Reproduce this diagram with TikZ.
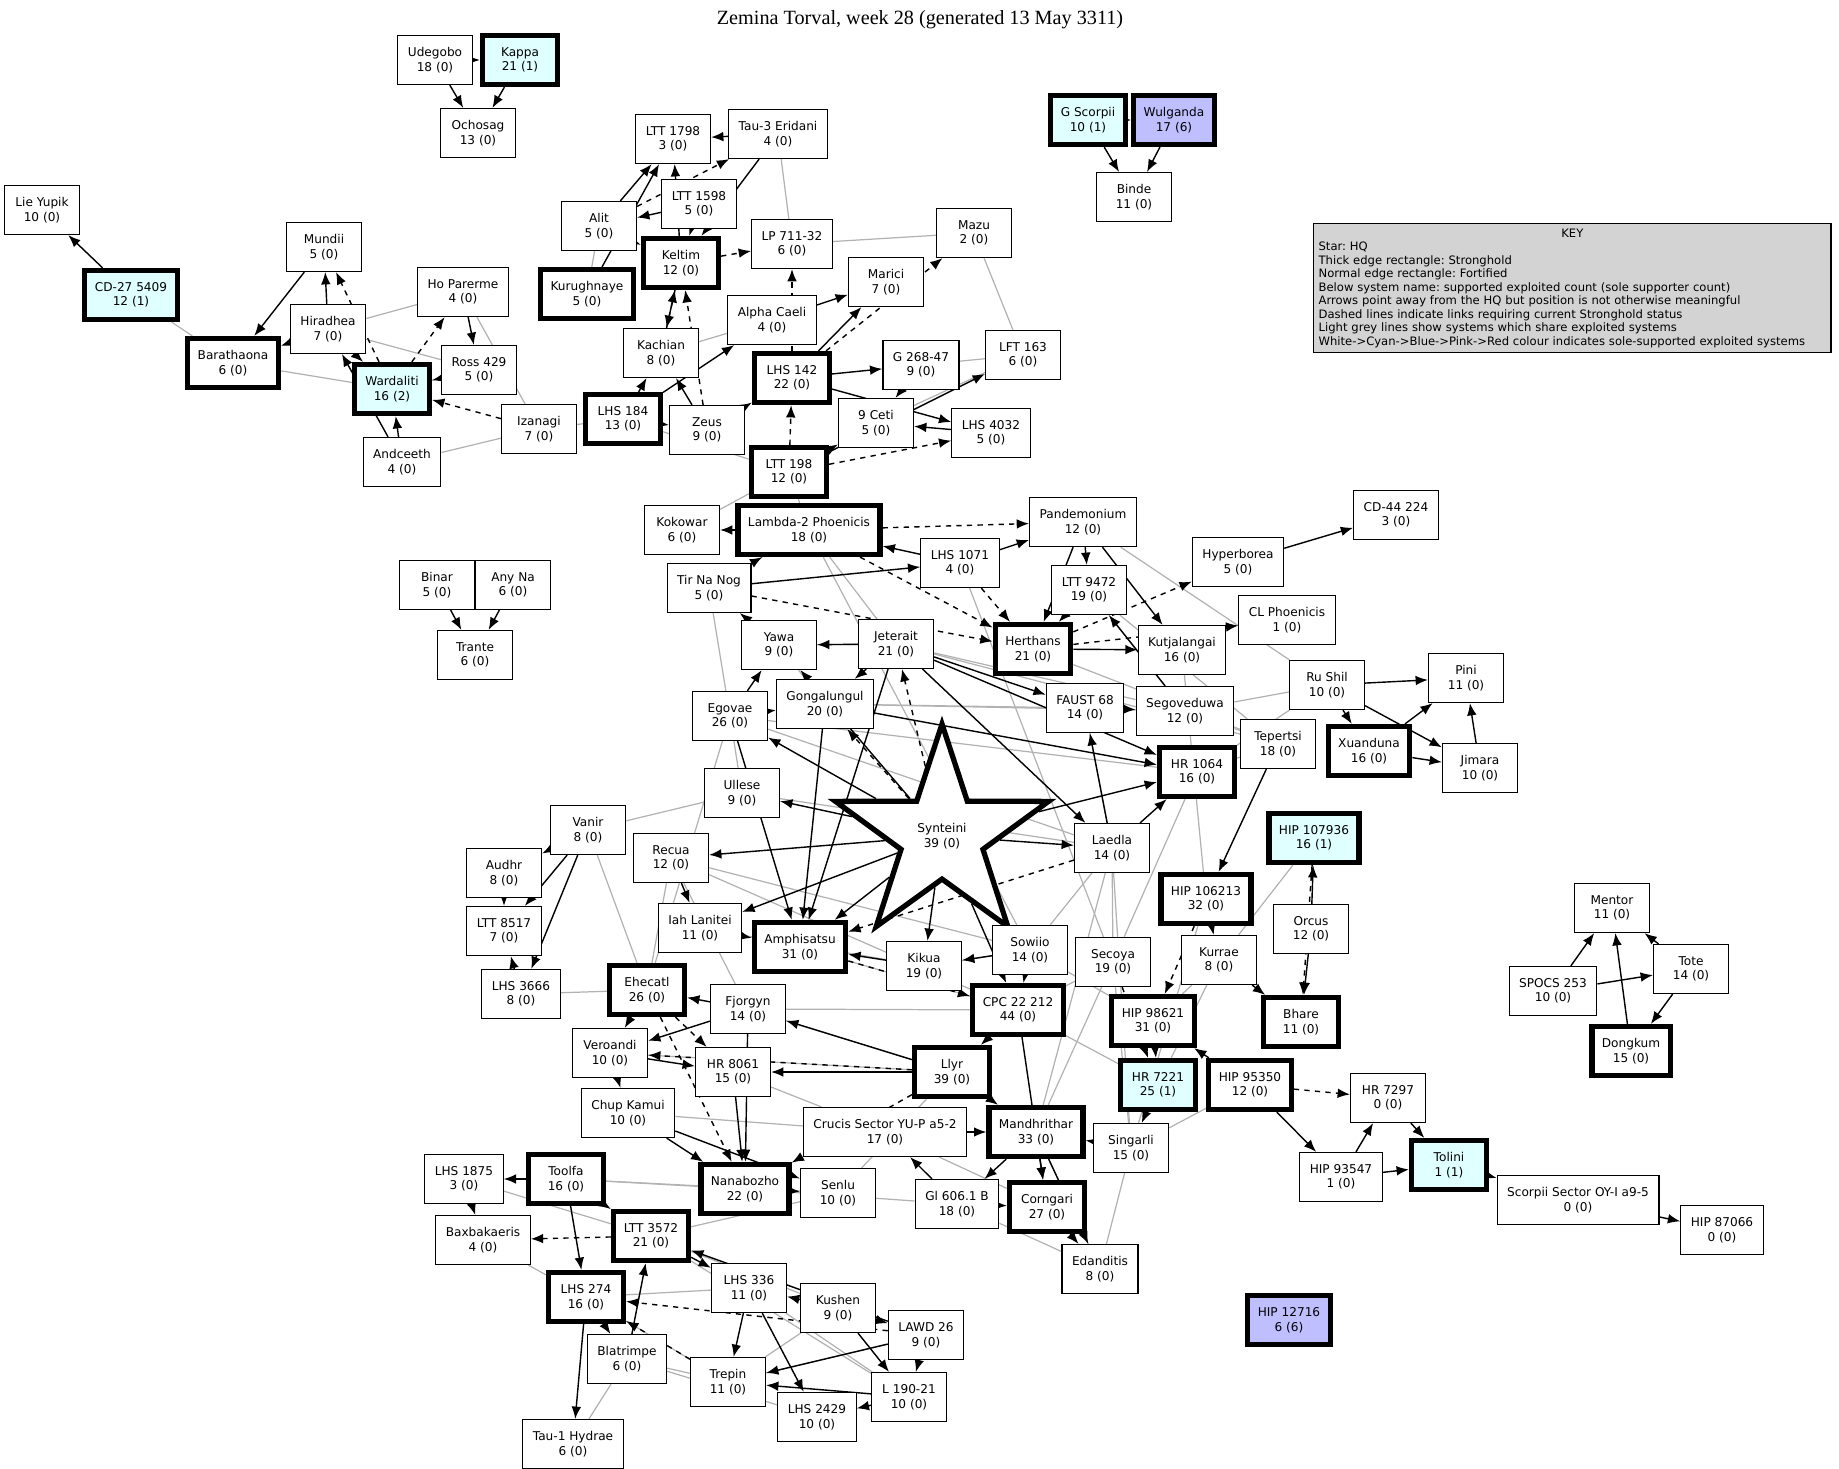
\documentclass[tikz,border=0pt]{standalone}
\usepackage{fontspec}
\setmainfont{DejaVu Sans}
\newfontfamily\titlefont{Liberation Serif}
\usetikzlibrary{arrows.meta,shapes.geometric,backgrounds}
\definecolor{solecyan}{RGB}{224,255,255}
\definecolor{soleblue}{RGB}{191,191,255}
\definecolor{keygrey}{RGB}{211,211,211}
\frenchspacing
\begin{document}
\begin{tikzpicture}
  [x=0.02cm, y=-0.02cm,
    font=\fontsize{6.9}{8.3}\selectfont,
    sys/.style={%
      rectangle, draw, fill=white, line width=0.7pt, align=center,
      minimum width=1.5cm, minimum height=0.98cm, inner xsep=0.2cm
    },
    strong/.style={sys, line width=3pt},
    cyanbox/.style={fill=solecyan},
    bluebox/.style={fill=soleblue},
    e/.style={-{Latex[length=7pt,width=5.5pt]}, line width=0.8pt},
    d/.style={e, dashed},
    g/.style={black!30, line width=0.7pt},
  ]
  \useasboundingbox (0,0) rectangle (1839,1469);
  \node[font=\titlefont\fontsize{11.5}{13}\selectfont] (title) at (920,20)
    {Zemina Torval, week 28 (generated 13 May 3311)};

  % north-west cluster
  \node[sys] (udegobo) at (435,60) {Udegobo\\18 (0)};
  \node[strong,cyanbox] (kappa) at (520,60) {Kappa\\21 (1)};
  \node[sys] (ochosag) at (478,133) {Ochosag\\13 (0)};
  \node[sys] (lieyupik) at (42,210) {Lie Yupik\\10 (0)};
  \node[strong,cyanbox] (cd27) at (131,295) {CD-27 5409\\12 (1)};
  \node[sys] (mundii) at (324,247) {Mundii\\5 (0)};
  \node[sys] (hoparerme) at (463,292) {Ho Parerme\\4 (0)};
  \node[sys] (hiradhea) at (328,329) {Hiradhea\\7 (0)};
  \node[strong] (barathaona) at (233,363) {Barathaona\\6 (0)};
  \node[sys] (ross) at (479,370) {Ross 429\\5 (0)};
  \node[strong,cyanbox] (wardaliti) at (392,389) {Wardaliti\\16 (2)};
  \node[sys] (izanagi) at (539,429) {Izanagi\\7 (0)};
  \node[sys] (andceeth) at (402,462) {Andceeth\\4 (0)};

  % northern cluster
  \node[sys] (ltta) at (673,139) {LTT 1798\\3 (0)};
  \node[sys] (tau3) at (778,134) {Tau-3 Eridani\\4 (0)};
  \node[sys] (lttb) at (699,204) {LTT 1598\\5 (0)};
  \node[sys] (alit) at (599,226) {Alit\\5 (0)};
  \node[strong] (keltim) at (681,263) {Keltim\\12 (0)};
  \node[sys] (lp711) at (792,244) {LP 711-32\\6 (0)};
  \node[sys] (mazu) at (974,233) {Mazu\\2 (0)};
  \node[strong] (kurughnaye) at (587,294) {Kurughnaye\\5 (0)};
  \node[sys] (marici) at (886,282) {Marici\\7 (0)};
  \node[sys] (alphacaeli) at (772,320) {Alpha Caeli\\4 (0)};
  \node[sys] (kachian) at (661,353) {Kachian\\8 (0)};
  \node[strong,cyanbox] (gscorpii) at (1088,120) {G Scorpii\\10 (1)};
  \node[strong,bluebox] (wulganda) at (1174,120) {Wulganda\\17 (6)};
  \node[sys] (binde) at (1134,197) {Binde\\11 (0)};
  \node[sys] (g268) at (921,365) {G 268-47\\9 (0)};
  \node[sys] (lft163) at (1023,355) {LFT 163\\6 (0)};
  \node[strong] (lhs142) at (792,378) {LHS 142\\22 (0)};
  \node[strong] (lhs184) at (623,419) {LHS 184\\13 (0)};
  \node[sys] (zeus) at (707,430) {Zeus\\9 (0)};
  \node[sys] (ceti) at (876,423) {9 Ceti\\5 (0)};
  \node[sys] (lhs4032) at (991,433) {LHS 4032\\5 (0)};
  \node[strong] (ltt198) at (789,472) {LTT 198\\12 (0)};

  % key
  \node[rectangle, draw, fill=keygrey, line width=0.7pt, align=left,
    anchor=north west, inner sep=1mm, text width=10.15cm,
    font=\fontsize{6.6}{7.7}\selectfont] (key) at (1313,223)
    {\hfill KEY\hfill\null\\
     Star: HQ\\
     Thick edge rectangle: Stronghold\\
     Normal edge rectangle: Fortified\\
     Below system name: supported exploited count (sole supporter count)\\
     Arrows point away from the HQ but position is not otherwise meaningful\\
     Dashed lines indicate links requiring current Stronghold status\\
     Light grey lines show systems which share exploited systems\\
     White->Cyan->Blue->Pink->Red colour indicates sole-supported exploited systems};

  % middle band
  \node[sys] (kokowar) at (682,530) {Kokowar\\6 (0)};
  \node[strong] (lambda) at (809,530) {Lambda-2 Phoenicis\\18 (0)};
  \node[sys] (pandemonium) at (1083,522) {Pandemonium\\12 (0)};
  \node[sys] (cd44) at (1396,515) {CD-44 224\\3 (0)};
  \node[sys] (lhs1071) at (960,563) {LHS 1071\\4 (0)};
  \node[sys] (hyperborea) at (1238,562) {Hyperborea\\5 (0)};
  \node[sys] (tirnanog) at (709,588) {Tir Na Nog\\5 (0)};
  \node[sys] (binar) at (437,585) {Binar\\5 (0)};
  \node[sys] (anyna) at (513,585) {Any Na\\6 (0)};
  \node[sys] (trante) at (475,655) {Trante\\6 (0)};
  \node[sys] (ltt9472) at (1089,590) {LTT 9472\\19 (0)};
  \node[sys] (clphoenicis) at (1287,620) {CL Phoenicis\\1 (0)};
  \node[sys] (yawa) at (779,645) {Yawa\\9 (0)};
  \node[sys] (jeterait) at (896,644) {Jeterait\\21 (0)};
  \node[strong] (herthans) at (1033,649) {Herthans\\21 (0)};
  \node[sys] (kutjalangai) at (1182,650) {Kutjalangai\\16 (0)};
  \node[sys] (pini) at (1466,678) {Pini\\11 (0)};
  \node[sys] (rushil) at (1327,685) {Ru Shil\\10 (0)};
  \node[sys] (gongalungul) at (825,704) {Gongalungul\\20 (0)};
  \node[sys] (faust) at (1085,708) {FAUST 68\\14 (0)};
  \node[sys] (segoveduwa) at (1185,711) {Segoveduwa\\12 (0)};
  \node[sys] (egovae) at (730,716) {Egovae\\26 (0)};
  \node[sys] (tepertsi) at (1278,744) {Tepertsi\\18 (0)};
  \node[strong] (xuanduna) at (1369,751) {Xuanduna\\16 (0)};
  \node[sys] (jimara) at (1480,768) {Jimara\\10 (0)};
  \node[strong] (hr1064) at (1197,772) {HR 1064\\16 (0)};
  \node[sys] (ullese) at (742,793) {Ullese\\9 (0)};
  \node[star, star points=5, star point ratio=2.6, draw, fill=white,
    line width=3pt, minimum size=4.0cm, align=center] (synteini) at (942,836)
    {Synteini\\39 (0)};
  \node[sys] (vanir) at (588,830) {Vanir\\8 (0)};
  \node[strong,cyanbox] (hip107936) at (1314,838) {HIP 107936\\16 (1)};
  \node[sys] (laedla) at (1112,848) {Laedla\\14 (0)};
  \node[sys] (recua) at (671,858) {Recua\\12 (0)};
  \node[sys] (audhr) at (504,873) {Audhr\\8 (0)};
  \node[strong] (hip106213) at (1206,899) {HIP 106213\\32 (0)};
  \node[sys] (mentor) at (1612,908) {Mentor\\11 (0)};
  \node[sys] (orcus) at (1311,929) {Orcus\\12 (0)};
  \node[sys] (ltt8517) at (504,931) {LTT 8517\\7 (0)};
  \node[sys] (iahlanitei) at (700,928) {Iah Lanitei\\11 (0)};
  \node[strong] (amphisatsu) at (800,947) {Amphisatsu\\31 (0)};
  \node[sys] (sowiio) at (1030,950) {Sowiio\\14 (0)};
  \node[sys] (kikua) at (924,966) {Kikua\\19 (0)};
  \node[sys] (secoya) at (1113,962) {Secoya\\19 (0)};
  \node[sys] (kurrae) at (1219,960) {Kurrae\\8 (0)};
  \node[sys] (tote) at (1691,969) {Tote\\14 (0)};
  \node[sys] (spocs) at (1553,991) {SPOCS 253\\10 (0)};
  \node[sys] (lhs3666) at (521,994) {LHS 3666\\8 (0)};

  % southern cluster
  \node[strong] (ehecatl) at (647,990) {Ehecatl\\26 (0)};
  \node[sys] (fjorgyn) at (748,1009) {Fjorgyn\\14 (0)};
  \node[strong] (cpc) at (1018,1010) {CPC 22 212\\44 (0)};
  \node[strong] (bhare) at (1301,1022) {Bhare\\11 (0)};
  \node[strong] (hip98621) at (1153,1021) {HIP 98621\\31 (0)};
  \node[strong] (dongkum) at (1631,1051) {Dongkum\\15 (0)};
  \node[sys] (veroandi) at (610,1053) {Veroandi\\10 (0)};
  \node[strong] (llyr) at (952,1072) {Llyr\\39 (0)};
  \node[sys] (hr8061) at (733,1072) {HR 8061\\15 (0)};
  \node[strong,cyanbox] (hr7221) at (1158,1085) {HR 7221\\25 (1)};
  \node[strong] (hip95350) at (1250,1085) {HIP 95350\\12 (0)};
  \node[sys] (hr7297) at (1388,1098) {HR 7297\\0 (0)};
  \node[sys] (chupkamui) at (628,1113) {Chup Kamui\\10 (0)};
  \node[sys] (crucis) at (885,1132) {Crucis Sector YU-P a5-2\\17 (0)};
  \node[strong] (mandhrithar) at (1036,1132) {Mandhrithar\\33 (0)};
  \node[sys] (singarli) at (1131,1148) {Singarli\\15 (0)};
  \node[sys] (lhs1875) at (464,1179) {LHS 1875\\3 (0)};
  \node[strong] (toolfa) at (566,1179) {Toolfa\\16 (0)};
  \node[strong] (nanabozho) at (745,1189) {Nanabozho\\22 (0)};
  \node[sys] (senlu) at (838,1193) {Senlu\\10 (0)};
  \node[sys] (gl606) at (957,1204) {Gl 606.1 B\\18 (0)};
  \node[strong] (corngari) at (1047,1207) {Corngari\\27 (0)};
  \node[sys] (hip93547) at (1341,1177) {HIP 93547\\1 (0)};
  \node[strong,cyanbox] (tolini) at (1449,1165) {Tolini\\1 (1)};
  \node[sys] (scorpii) at (1578,1200) {Scorpii Sector OY-I a9-5\\0 (0)};
  \node[sys] (hip87066) at (1722,1230) {HIP 87066\\0 (0)};
  \node[sys] (baxbakaeris) at (483,1240) {Baxbakaeris\\4 (0)};
  \node[strong] (ltt3572) at (651,1236) {LTT 3572\\21 (0)};
  \node[sys] (edanditis) at (1100,1269) {Edanditis\\8 (0)};
  \node[sys] (lhs336) at (749,1288) {LHS 336\\11 (0)};
  \node[strong,bluebox] (hip12716) at (1289,1320) {HIP 12716\\6 (6)};
  \node[strong] (lhs274) at (586,1297) {LHS 274\\16 (0)};
  \node[sys] (kushen) at (838,1308) {Kushen\\9 (0)};
  \node[sys] (lawd26) at (926,1335) {LAWD 26\\9 (0)};
  \node[sys] (blatrimpe) at (627,1359) {Blatrimpe\\6 (0)};
  \node[sys] (trepin) at (728,1382) {Trepin\\11 (0)};
  \node[sys] (l190) at (909,1397) {L 190-21\\10 (0)};
  \node[sys] (lhs2429) at (817,1417) {LHS 2429\\10 (0)};
  \node[sys] (tau1) at (573,1444) {Tau-1 Hydrae\\6 (0)};

  \begin{pgfonlayer}{background}
    % shared exploited systems
    \foreach \a/\b in {cd27/barathaona, barathaona/wardaliti, hiradhea/hoparerme,
      hoparerme/izanagi, andceeth/izanagi, izanagi/lhs184, wardaliti/ross,
      hiradhea/ross, mazu/lp711, mazu/lft163, tau3/lp711, alit/kurughnaye,
      lambda/ltt198, ltt198/lhs184, lambda/tirnanog, tirnanog/egovae,
      yawa/jeterait, yawa/gongalungul, gongalungul/faust, gongalungul/segoveduwa,
      egovae/laedla, egovae/hr1064, jeterait/segoveduwa, jeterait/tepertsi,
      faust/segoveduwa, faust/laedla, segoveduwa/tepertsi, tepertsi/hr1064,
      rushil/hr1064, rushil/segoveduwa, lambda/jeterait, lambda/sowiio,
      lhs1071/secoya, ltt9472/tepertsi, kutjalangai/hip106213, recua/cpc,
      recua/sowiio, iahlanitei/kikua, ullese/laedla, vanir/ehecatl,
      ehecatl/recua, lhs3666/ehecatl, fjorgyn/cpc, fjorgyn/llyr, veroandi/llyr,
      hr8061/crucis, chupkamui/crucis, senlu/llyr, nanabozho/gl606,
      toolfa/nanabozho, toolfa/senlu, ltt3572/senlu, lhs274/lhs336,
      lhs274/trepin, blatrimpe/lhs2429, blatrimpe/trepin, baxbakaeris/lhs274,
      lhs1875/ltt3572, kushen/trepin, lawd26/trepin, lhs336/l190,
      ltt3572/l190, ltt3572/kushen, tau1/blatrimpe, secoya/singarli,
      secoya/mandhrithar, kurrae/hip98621, kurrae/hr7221, hip106213/singarli,
      hr1064/secoya, laedla/secoya, laedla/singarli, cpc/secoya, cpc/hr7221,
      sowiio/hip98621, mandhrithar/edanditis, gl606/edanditis, singarli/edanditis,
      crucis/corngari, laedla/mandhrithar, sowiio/laedla, hip107936/kurrae,
      herthans/tepertsi, pandemonium/rushil, kikua/sowiio, amphisatsu/cpc,
      egovae/ehecatl, recua/fjorgyn, ullese/egovae, ltt9472/segoveduwa,
      vanir/ullese, kachian/alphacaeli, g268/lft163, ceti/lft163,
      kokowar/ltt198, hip95350/singarli}
      \draw[g] (\a) -- (\b);
    % support links
    \foreach \a/\b in {udegobo/kappa, udegobo/ochosag, kappa/ochosag,
      cd27/lieyupik, hiradhea/mundii, mundii/barathaona, hiradhea/wardaliti,
      hoparerme/ross, ross/wardaliti, andceeth/wardaliti, andceeth/hiradhea,
      hiradhea/barathaona,
      gscorpii/wulganda, gscorpii/binde, wulganda/binde,
      binar/anyna, binar/trante, anyna/trante,
      alit/ltta, keltim/ltta, lttb/keltim, tau3/ltta, tau3/keltim, lttb/alit,
      alit/keltim, kurughnaye/ltta, keltim/kachian, lhs184/kachian,
      zeus/kachian, lhs142/marici, alphacaeli/marici, lhs184/alphacaeli,
      lhs142/g268, lhs142/lhs4032, g268/ceti, lhs4032/ceti, ltt198/lft163,
      ltt198/ceti, lhs184/zeus, zeus/lhs142,
      lambda/kokowar, lhs1071/lambda, lhs1071/pandemonium, tirnanog/lambda,
      tirnanog/lhs1071, pandemonium/ltt9472, pandemonium/herthans,
      pandemonium/kutjalangai, ltt9472/herthans, herthans/kutjalangai,
      hyperborea/cd44, segoveduwa/ltt9472,
      rushil/pini, rushil/xuanduna, rushil/jimara, xuanduna/pini,
      xuanduna/jimara, jimara/pini, tepertsi/hip106213,
      synteini/egovae, synteini/ullese, synteini/recua, synteini/iahlanitei,
      synteini/amphisatsu, synteini/kikua, synteini/cpc, synteini/laedla,
      synteini/hr1064, synteini/yawa,
      jeterait/gongalungul, jeterait/faust, jeterait/hr1064, jeterait/laedla,
      jeterait/amphisatsu, jeterait/yawa, yawa/tirnanog, egovae/yawa,
      egovae/gongalungul, egovae/amphisatsu, gongalungul/hr1064,
      gongalungul/amphisatsu, laedla/faust, laedla/hr1064, faust/segoveduwa,
      orcus/hip107936, orcus/bhare, kurrae/bhare, hip106213/kurrae,
      hip98621/hr7221, hip95350/hip98621, hip95350/hip93547,
      hip93547/hr7297, hip93547/tolini, hr7297/tolini, tolini/scorpii,
      scorpii/hip87066,
      spocs/mentor, spocs/tote, tote/mentor, tote/dongkum, dongkum/mentor,
      vanir/audhr, vanir/ltt8517, vanir/lhs3666, audhr/ltt8517, lhs3666/ltt8517,
      recua/iahlanitei, iahlanitei/amphisatsu, kikua/amphisatsu, sowiio/kikua,
      sowiio/cpc, fjorgyn/ehecatl, llyr/fjorgyn, llyr/hr8061,
      veroandi/hr8061, veroandi/chupkamui, fjorgyn/veroandi, ehecatl/veroandi,
      fjorgyn/nanabozho, hr8061/nanabozho, chupkamui/nanabozho,
      chupkamui/senlu, nanabozho/senlu, crucis/mandhrithar,
      mandhrithar/corngari, mandhrithar/gl606, gl606/crucis, gl606/corngari,
      mandhrithar/edanditis, corngari/edanditis, llyr/mandhrithar,
      singarli/mandhrithar, cpc/llyr, cpc/corngari,
      toolfa/lhs1875, toolfa/ltt3572, toolfa/lhs274, ltt3572/lhs336,
      lhs274/tau1, lhs274/blatrimpe, kushen/lhs336, kushen/lawd26,
      lawd26/ltt3572, lawd26/l190, l190/lhs2429, l190/trepin, lhs336/trepin,
      lhs336/lhs2429, blatrimpe/ltt3572, lawd26/trepin, lhs1875/baxbakaeris,
      kushen/l190}
      \draw[e] (\a) -- (\b);
    % links needing Stronghold status
    \foreach \a/\b in {wardaliti/mundii, wardaliti/hoparerme, izanagi/wardaliti,
      alit/tau3, keltim/lp711, kachian/keltim, zeus/keltim, lhs142/lp711,
      lhs142/mazu, ltt198/lhs142, ltt198/lhs4032, lambda/pandemonium,
      tirnanog/herthans, lambda/herthans, lhs1071/herthans,
      herthans/hyperborea, herthans/clphoenicis, synteini/gongalungul,
      synteini/jeterait, hip107936/bhare, hip106213/hip98621, secoya/hr7221,
      hip95350/hr7297, llyr/veroandi, ehecatl/nanabozho, ehecatl/hr8061,
      ltt3572/baxbakaeris, lawd26/lhs274, trepin/lhs274, hr7221/singarli,
      laedla/amphisatsu, amphisatsu/cpc, llyr/nanabozho}
      \draw[d] (\a) -- (\b);
  \end{pgfonlayer}
\end{tikzpicture}
\end{document}
